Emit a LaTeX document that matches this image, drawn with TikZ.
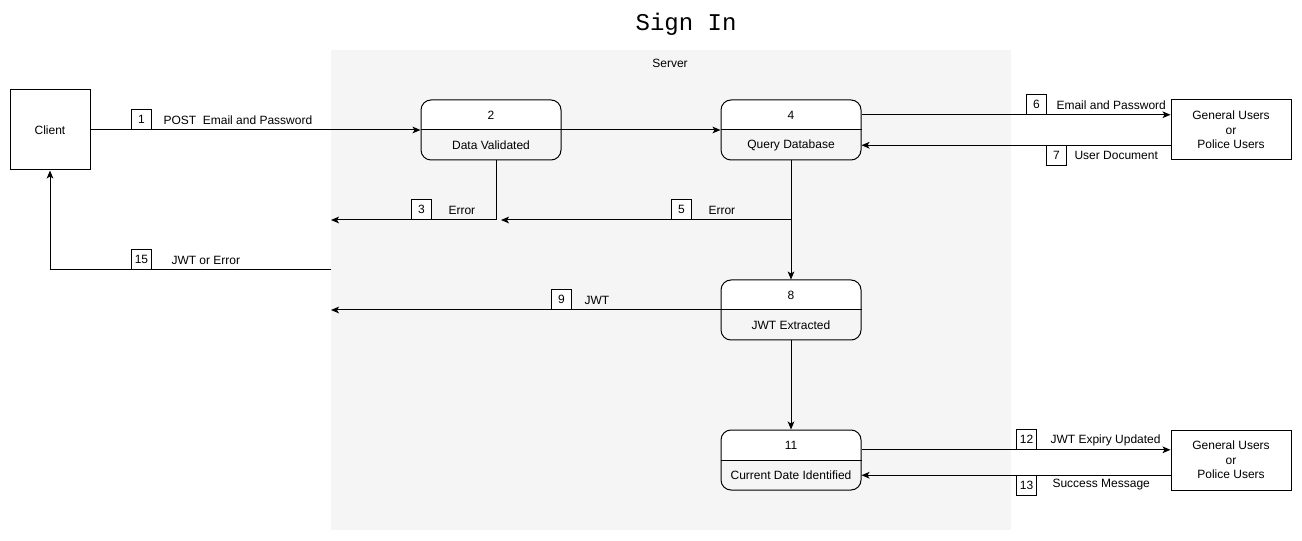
\documentclass[tikz,border=0pt]{standalone}
\usepackage{fontspec}
\setmainfont{Liberation Sans}
\setmonofont{Liberation Mono}
\usepackage{tikz}
\usetikzlibrary{arrows.meta,calc}
\definecolor{srvgray}{HTML}{F5F5F5}

\begin{document}
\begin{tikzpicture}[x=0.75pt,y=-0.75pt,line width=0.75pt,
	font=\fontsize{9}{10.8}\selectfont,
	arr/.style={-{Stealth[length=6pt,width=5pt,inset=1.5pt]}},
	box/.style={draw,fill=white,minimum width=90pt,minimum height=45pt,align=center,inner sep=0pt},
	proc/.style={draw,rounded corners=7.5pt,minimum width=105pt,minimum height=45pt,
		path picture={\fill[white,sharp corners] (path picture bounding box.north west) rectangle (path picture bounding box.east);}},
	tag/.style={draw,fill=white,minimum size=15pt,inner sep=0pt},
	lbl/.style={anchor=west,inner sep=0pt}]
\useasboundingbox (0,0) rectangle (1302,541);

% server area
\fill[srvgray] (331,50) rectangle (1011,530);
\node (srv) at (670,63) {Server};
\node (title) at (686,24) {\ttfamily\fontsize{18}{18}\selectfont Sign In};

% outside entities
\node[box,minimum width=60pt,minimum height=60pt] (client) at (50,130) {Client};
\node[box] (u1) at (1231,130) {General Users\\or\\Police Users};
\node[box] (u2) at (1231,460) {General Users\\or\\Police Users};

% processes
\foreach \n/\x/\y/\t in {2/491/130/Data Validated, 4/791/130/Query Database,
	8/791/310/JWT Extracted, 11/791/460/Current Date Identified}{
	\node[proc] (p\n) at (\x,\y) {};
	\draw (p\n.west) -- (p\n.east);
	\node (p\n n) at (\x,\y-15) {\n};
	\node (p\n t) at (\x,\y+15) {\t};
}

% free ends at the server edge
\coordinate (e3) at (331,220);
\coordinate (e5) at (501,220);
\coordinate (e9) at (331,310);
\coordinate (e15) at (331,270);

% flows
\draw[arr] (client.east) -- (p2.west);
\draw[arr] (p2.east) -- (p4.west);
\draw[arr] ($(p4.north east)!0.25!(p4.south east)$) -- ($(u1.north west)!0.25!(u1.south west)$);
\draw[arr] ($(u1.north west)!0.75!(u1.south west)$) -- ($(p4.north east)!0.75!(p4.south east)$);
\draw[arr] ($(p2.south)+(5,0)$) |- (e3);
\draw[arr] (p4.south) -- (p8.north);
\draw[arr] (p4.south |- e5) -- (e5);
\draw[arr] (p8.west) -- (e9);
\draw[arr] (e15) -| (client.south);
\draw[arr] (p8.south) -- (p11.north);
\draw[arr] ($(p11.north east)!0.333!(p11.south east)$) -- ($(u2.north west)!0.333!(u2.south west)$);
\draw[arr] ($(u2.north west)!0.75!(u2.south west)$) -- ($(p11.north east)!0.75!(p11.south east)$);

% flow numbers and labels
\node[tag,anchor=south west] (t1) at (131,130) {1};
\node[lbl] (l1) at (163,120) {POST\ \ Email and Password};
\node[tag,anchor=south west] (t3) at (411,220) {3};
\node[lbl] (l3) at (448,210) {Error};
\node[tag,anchor=south west] (t5) at (671,220) {5};
\node[lbl] (l5) at (708,210) {Error};
\node[tag,anchor=south west] (t6) at (1026,115) {6};
\node[lbl] (l6) at (1056,105) {Email and Password};
\node[tag,anchor=north west] (t7) at (1046,145) {7};
\node[lbl] (l7) at (1074,155) {User Document};
\node[tag,anchor=south west] (t9) at (551,310) {9};
\node[lbl] (l9) at (584,300) {JWT};
\node[tag,anchor=south west] (t15) at (131,270) {15};
\node[lbl] (l15) at (171,260) {JWT or Error};
\node[tag,anchor=south west] (t12) at (1016,450) {12};
\node[lbl] (l12) at (1050,440) {JWT Expiry Updated};
\node[tag,anchor=north west] (t13) at (1016,475) {13};
\node[lbl] (l13) at (1052,485) {Success Message};

\end{tikzpicture}
\end{document}
